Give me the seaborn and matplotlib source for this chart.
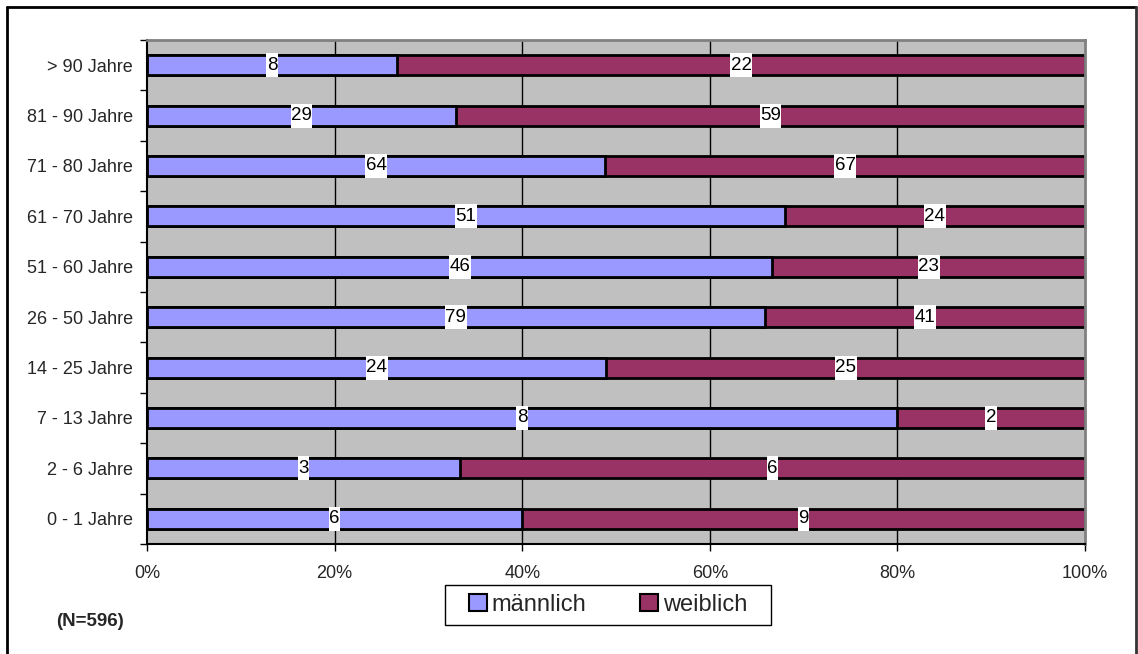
import matplotlib
matplotlib.use("Agg")
import matplotlib.pyplot as plt
from matplotlib.lines import Line2D
from matplotlib.patches import Patch, Rectangle
from matplotlib.path import Path
import numpy as np
import pandas as pd
import seaborn as sns

# Age groups (top to bottom) and case counts per sex
categories = ["> 90 Jahre", "81 - 90 Jahre", "71 - 80 Jahre", "61 - 70 Jahre",
              "51 - 60 Jahre", "26 - 50 Jahre", "14 - 25 Jahre", "7 - 13 Jahre",
              "2 - 6 Jahre", "0 - 1 Jahre"]
maennlich = [8, 29, 64, 51, 46, 79, 24, 8, 3, 6]
weiblich = [22, 59, 67, 24, 23, 41, 25, 2, 6, 9]
x_ticks = [0, 20, 40, 60, 80, 100]
x_ticklabels = ["0%", "20%", "40%", "60%", "80%", "100%"]
n_total = sum(maennlich) + sum(weiblich)

df = pd.DataFrame({"Gruppe": categories, "m": maennlich, "w": weiblich})
df["total"] = df["m"] + df["w"]
df["m_pct"] = df["m"] / df["total"] * 100
df["full"] = 100.0

c_m = "#9999FF"
c_w = "#993366"

sns.set_theme(style="white")
plt.rcParams["font.family"] = ["Liberation Sans", "DejaVu Sans"]


def tall_box(x0, y0, width, height, mutation_size):
    """Narrow, tall rectangle behind a data label."""
    px, py = 0.5, 3.5
    x0, y0 = x0 - px, y0 - py
    x1, y1 = x0 + width + 2 * px, y0 + height + 2 * py
    return Path([(x0, y0), (x1, y0), (x1, y1), (x0, y1), (x0, y0)], closed=True)


W, H = 1138, 654
fig = plt.figure(figsize=(W / 100, H / 100), dpi=100)
ax = fig.add_axes([147 / W, 1 - 544 / H, (1085 - 147) / W, (544 - 40) / H])
ax.set_facecolor("#C0C0C0")

# Vertical gridlines behind bars
for xv in x_ticks[1:-1]:
    ax.axvline(xv, color="black", lw=1.0, zorder=0.5)

# Full-width bars in female colour, male share drawn on top
sns.barplot(data=df, y="Gruppe", x="full", order=categories, orient="h",
            color=c_w, saturation=1, width=0.4, edgecolor="black", linewidth=2,
            ax=ax, zorder=2)
sns.barplot(data=df, y="Gruppe", x="m_pct", order=categories, orient="h",
            color=c_m, saturation=1, width=0.4, edgecolor="black", linewidth=2,
            ax=ax, zorder=3)

# Count labels centred in each segment
lab_fs = 13.5
box = dict(boxstyle=tall_box, facecolor="white", edgecolor="none")
for i, row in df.iterrows():
    mp = row["m_pct"]
    ax.text(mp / 2, i, str(row["m"]), ha="center", va="center", fontsize=lab_fs,
            color="black", zorder=5, bbox=box)
    ax.text(mp + (100 - mp) / 2, i, str(row["w"]), ha="center", va="center",
            fontsize=lab_fs, color="black", zorder=5, bbox=box)

ax.set_xlim(0, 100)
ax.set_ylim(len(categories) - 0.5, -0.5)
ax.set_xlabel("")
ax.set_ylabel("")
ax.set_xticks(x_ticks)
ax.set_xticklabels(x_ticklabels, fontsize=13)
ax.set_yticks(range(len(categories)))
ax.set_yticklabels(categories, fontsize=13)
ax.set_yticks(np.arange(-0.5, len(categories)), minor=True)
ax.tick_params(axis="y", which="major", length=0, pad=10)
ax.tick_params(axis="y", which="minor", length=5, width=1, color="black", left=True)
ax.tick_params(axis="x", which="major", length=5, width=1, color="black",
               bottom=True, pad=10)
ax.grid(False)

for side in ["left", "bottom"]:
    ax.spines[side].set_color("black")
    ax.spines[side].set_linewidth(1.5)
for side in ["top", "right"]:
    ax.spines[side].set_color("#808080")
    ax.spines[side].set_linewidth(2)

# Legend below the plot area, with its own frame box
fig.add_artist(Rectangle((445 / W, 1 - 625 / H), (771 - 445) / W, 40 / H,
                         transform=fig.transFigure, facecolor="white",
                         edgecolor="black", linewidth=1.0))
handles = [Patch(facecolor=c_m, edgecolor="black", linewidth=1.5, label="männlich"),
           Patch(facecolor=c_w, edgecolor="black", linewidth=1.5, label="weiblich")]
leg = fig.legend(handles=handles, loc="center", bbox_to_anchor=(608 / W, 1 - 605 / H),
                 ncol=2, fontsize=17, frameon=False,
                 handlelength=0.75, handleheight=0.75, handletextpad=0.2,
                 columnspacing=2.3, borderpad=0.3)

fig.text(56 / W, 1 - 622 / H, f"(N={n_total})", fontsize=13.5, fontweight="bold",
         ha="left", va="center")

# Outer frame (left, top, right)
lw = 2
fig.add_artist(Line2D([7 / W, 7 / W], [0, 1 - 7 / H], color="black", lw=lw,
                      transform=fig.transFigure))
fig.add_artist(Line2D([7 / W, 1136 / W], [1 - 7 / H, 1 - 7 / H], color="black",
                      lw=lw, transform=fig.transFigure))
fig.add_artist(Line2D([1136 / W, 1136 / W], [0, 1 - 7 / H], color="#333333",
                      lw=lw, transform=fig.transFigure))

fig.savefig("out.png", dpi=100, facecolor="white")
